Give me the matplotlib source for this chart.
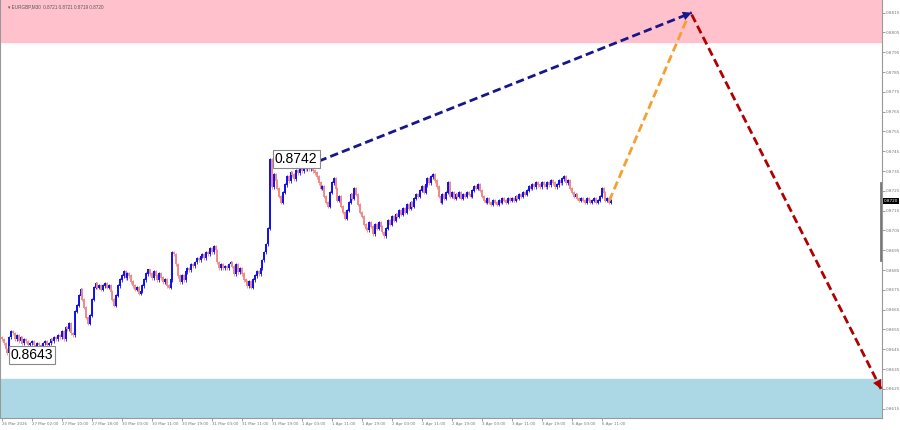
import matplotlib
matplotlib.use("Agg")
import matplotlib.pyplot as plt
import matplotlib.transforms as mtransforms
import numpy as np

# EURGBP M30 closes, one value per 30 min bar (16 bars per tick label)
closes = [
    0.8650, 0.8648, 0.8645, 0.8643, 0.8651, 0.8654, 0.8653, 0.8650, 0.8652, 0.8649, 0.8651, 0.8648, 0.8650, 0.8649, 0.8647, 0.8648,
    0.8649, 0.8647, 0.8646, 0.8648, 0.8647, 0.8646, 0.8648, 0.8649, 0.8647, 0.8648, 0.8650, 0.8649, 0.8651, 0.8650, 0.8652, 0.8651,
    0.8654, 0.8650, 0.8656, 0.8655, 0.8658, 0.8653, 0.8652, 0.8664, 0.8667, 0.8672, 0.8675, 0.8670, 0.8666, 0.8661, 0.8658, 0.8662,
    0.8670, 0.8676, 0.8678, 0.8676, 0.8677, 0.8675, 0.8677, 0.8678, 0.8676, 0.8677, 0.8674, 0.8670, 0.8667, 0.8672, 0.8677, 0.8680,
    0.8682, 0.8684, 0.8681, 0.8683, 0.8682, 0.8679, 0.8677, 0.8675, 0.8676, 0.8673, 0.8674, 0.8677, 0.8680, 0.8683, 0.8685, 0.8683,
    0.8681, 0.8684, 0.8682, 0.8680, 0.8683, 0.8681, 0.8679, 0.8680, 0.8677, 0.8676, 0.8680, 0.8694, 0.8693, 0.8688, 0.8682, 0.8679,
    0.8682, 0.8680, 0.8684, 0.8686, 0.8685, 0.8688, 0.8687, 0.8689, 0.8691, 0.8690, 0.8692, 0.8693, 0.8691, 0.8694, 0.8693, 0.8696,
    0.8694, 0.8697, 0.8695, 0.8689, 0.8686, 0.8688, 0.8686, 0.8687, 0.8686, 0.8688, 0.8689, 0.8687, 0.8683, 0.8688, 0.8684, 0.8686,
    0.8683, 0.8680, 0.8679, 0.8677, 0.8679, 0.8676, 0.8680, 0.8682, 0.8684, 0.8683, 0.8686, 0.8690, 0.8694, 0.8698, 0.8706, 0.8741,
    0.8727, 0.8733, 0.8730, 0.8726, 0.8722, 0.8719, 0.8724, 0.8728, 0.8732, 0.8730, 0.8734, 0.8733, 0.8731, 0.8735, 0.8734, 0.8736,
    0.8735, 0.8737, 0.8736, 0.8738, 0.8736, 0.8737, 0.8735, 0.8734, 0.8732, 0.8729, 0.8726, 0.8727, 0.8722, 0.8719, 0.8717, 0.8724,
    0.8729, 0.8731, 0.8726, 0.8720, 0.8722, 0.8717, 0.8714, 0.8711, 0.8715, 0.8719, 0.8723, 0.8721, 0.8726, 0.8723, 0.8718, 0.8714,
    0.8712, 0.8708, 0.8706, 0.8705, 0.8709, 0.8707, 0.8703, 0.8708, 0.8706, 0.8709, 0.8707, 0.8704, 0.8702, 0.8706, 0.8710, 0.8708,
    0.8712, 0.8710, 0.8713, 0.8712, 0.8715, 0.8713, 0.8716, 0.8714, 0.8718, 0.8716, 0.8719, 0.8717, 0.8721, 0.8723, 0.8722, 0.8725,
    0.8727, 0.8724, 0.8728, 0.8731, 0.8729, 0.8732, 0.8733, 0.8730, 0.8727, 0.8722, 0.8719, 0.8723, 0.8721, 0.8724, 0.8729, 0.8722,
    0.8724, 0.8721, 0.8723, 0.8722, 0.8724, 0.8721, 0.8723, 0.8722, 0.8724, 0.8723, 0.8722, 0.8725, 0.8727, 0.8726, 0.8728, 0.8725,
    0.8722, 0.8720, 0.8719, 0.8721, 0.8719, 0.8718, 0.8720, 0.8719, 0.8718, 0.8720, 0.8719, 0.8721, 0.8720, 0.8719, 0.8721, 0.8720,
    0.8721, 0.8720, 0.8722, 0.8721, 0.8723, 0.8722, 0.8724, 0.8723, 0.8725, 0.8727, 0.8726, 0.8728, 0.8727, 0.8729, 0.8728, 0.8727,
    0.8729, 0.8728, 0.8727, 0.8729, 0.8728, 0.8730, 0.8729, 0.8727, 0.8728, 0.8730, 0.8729, 0.8731, 0.8732, 0.8729, 0.8730, 0.8726,
    0.8724, 0.8722, 0.8723, 0.8721, 0.8720, 0.8721, 0.8720, 0.8719, 0.8721, 0.8720, 0.8719, 0.8720, 0.8721, 0.8719, 0.8720, 0.8722,
    0.8726, 0.8724, 0.8720, 0.8721, 0.8719, 0.8720,
]

time_labels = ["26 Mar 2026", "27 Mar 02:00", "27 Mar 10:00", "27 Mar 18:00", "30 Mar 03:00",
               "30 Mar 11:00", "30 Mar 19:00", "31 Mar 03:00", "31 Mar 11:00", "31 Mar 19:00",
               "1 Apr 03:00", "1 Apr 11:00", "1 Apr 19:00", "2 Apr 03:00", "2 Apr 11:00",
               "2 Apr 19:00", "3 Apr 03:00", "3 Apr 11:00", "3 Apr 19:00", "6 Apr 03:00", "6 Apr 11:00"]
bars_per_label = 16

price_ticks = [0.8615, 0.8625, 0.8635, 0.8645, 0.8655, 0.8665, 0.8675, 0.8685, 0.8695, 0.8705,
               0.8715, 0.8725, 0.8735, 0.8745, 0.8755, 0.8765, 0.8775, 0.8785, 0.8795, 0.8805, 0.8815]

# target zones
sell_zone = (0.8800, 0.8830)
buy_zone = (0.8600, 0.8630)

# forecast path (bar index, price)
wave_x = [169, 368]
wave_y = [0.8740, 0.8815]
next_x = [324, 366]
next_y = [0.8720, 0.8813]
down_x = [368, 469]
down_y = [0.8814, 0.8625]

marked = [(157, 0.8741, "0.8742"), (16, 0.8642, "0.8643")]
title = "EURGBP,M30  0.8721 0.8721 0.8719 0.8720"

closes = np.array(closes)
opens = np.concatenate([[closes[0] + 0.0001], closes[:-1]])
idx = np.arange(len(closes))
up = closes >= opens
body_hi = np.maximum(opens, closes)
body_lo = np.minimum(opens, closes)

fig = plt.figure(figsize=(9, 4.3), dpi=100)
ax = fig.add_axes([0, 12 / 430, 882 / 900, 418 / 430])
ax.set_xlim(-1, 469.5)
ax.set_ylim(0.86103, 0.88214)

ax.axhspan(sell_zone[0], sell_zone[1], color="#ffc2cd", zorder=0)
ax.axhspan(buy_zone[0], buy_zone[1], color="#acd8e5", zorder=0)

colors = np.where(up, "#1010ee", "#f08a8a")
# thin wicks, then bodies
ax.vlines(idx, body_lo - 0.00008, body_hi + 0.00008, colors=colors, lw=0.6, zorder=3)
ax.vlines(idx, body_lo, body_hi + 0.00003, colors=colors, lw=1.4, zorder=3)


def dashed_arrow(xs, ys, color, head):
    ax.plot(xs, ys, color=color, lw=2.0, ls=(0, (3, 1.5)), zorder=5, clip_on=False)
    tail = (xs[0] + 0.93 * (xs[1] - xs[0]), ys[0] + 0.93 * (ys[1] - ys[0]))
    if head:
        ax.annotate("", xy=(xs[1], ys[1]), xytext=tail,
                    arrowprops=dict(arrowstyle="-|>", color=color, lw=0,
                                    mutation_scale=16, shrinkA=0, shrinkB=0),
                    zorder=6, annotation_clip=False)


dashed_arrow(wave_x, wave_y, "#17178a", True)
dashed_arrow(next_x, next_y, "#f5a030", False)
dashed_arrow(down_x, down_y, "#b00000", True)

for x, y, txt in marked:
    ax.text(x, y, txt, fontsize=10, family="Liberation Sans", ha="center", va="center",
            zorder=7, bbox=dict(boxstyle="square,pad=0.15", fc="white", ec="#888888", lw=0.8))

ax.text(0.009, 0.99, "\u25be " + title, transform=ax.transAxes, fontsize=3.3,
        color="#555555", va="top", family=["Liberation Sans", "DejaVu Sans"])

ax.yaxis.tick_right()
ax.set_yticks(price_ticks)
ax.set_yticklabels([f"{p:.4f}" for p in price_ticks])
ax.tick_params(axis="y", labelsize=3, colors="#777777", length=2, width=0.5, pad=1)
ax.set_xticks(np.arange(len(time_labels)) * bars_per_label)
ax.set_xticklabels(time_labels, ha="left")
ax.tick_params(axis="x", labelsize=2.9, colors="#777777", length=2, width=0.5, pad=1)

for s in ["left", "right", "bottom"]:
    ax.spines[s].set_color("#999999")
    ax.spines[s].set_linewidth(0.8)
ax.spines["top"].set_visible(False)

# range mark and last price tag on the price scale
trans = mtransforms.blended_transform_factory(ax.transAxes, ax.transData)
ax.plot([0.999, 0.999], [0.8690, 0.8729], color="#777777", lw=2, transform=trans, clip_on=False)
ax.text(1.002, closes[-1], f"{closes[-1]:.4f}", transform=trans, fontsize=3, color="white",
        va="center", bbox=dict(fc="black", ec="none", pad=0.8))

fig.savefig("out.png", dpi=100, facecolor="white")
